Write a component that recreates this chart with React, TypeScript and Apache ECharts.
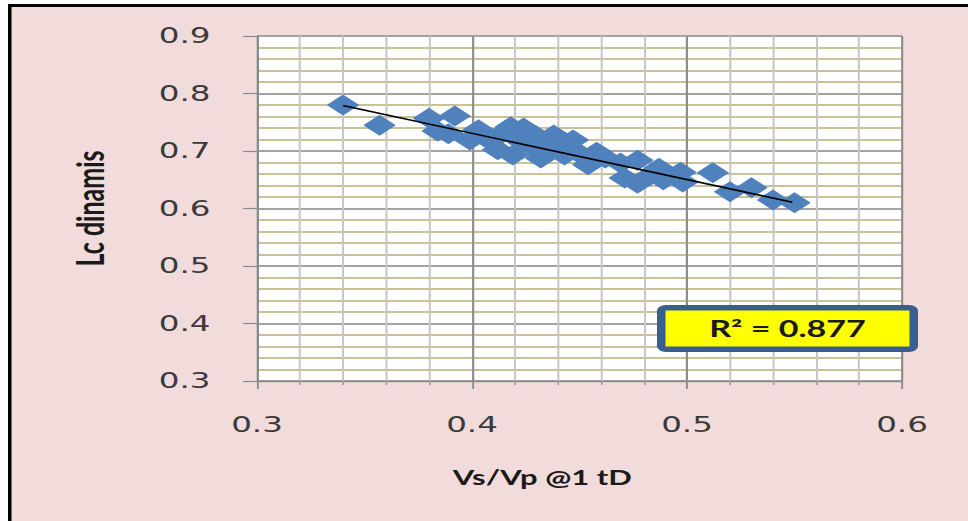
import React, { useEffect, useRef } from "react";
import * as echarts from "echarts";

// Data
const vsVp = [
  0.340, 0.357, 0.380, 0.392, 0.384, 0.389, 0.403, 0.408, 0.413, 0.412,
  0.418, 0.419, 0.422, 0.424, 0.427, 0.432, 0.430, 0.435, 0.438, 0.441,
  0.443, 0.447, 0.449, 0.454, 0.458, 0.462, 0.469, 0.477, 0.477, 0.471,
  0.483, 0.487, 0.489, 0.497, 0.498, 0.512, 0.520, 0.530, 0.540, 0.550,
  0.399,
];
const lcDinamis = [
  0.780, 0.745, 0.757, 0.761, 0.735, 0.730, 0.737, 0.719, 0.728, 0.702,
  0.742, 0.693, 0.719, 0.740, 0.710, 0.688, 0.726, 0.705, 0.728, 0.710,
  0.693, 0.719, 0.698, 0.676, 0.698, 0.688, 0.679, 0.684, 0.644, 0.653,
  0.658, 0.670, 0.650, 0.663, 0.646, 0.662, 0.629, 0.636, 0.615, 0.610,
  0.719,
];
const trendX = [0.34, 0.549];
const trendY = [0.779, 0.611];
const r2Label = "R\u00B2 = 0.877";
const xTitle = "Vs/Vp @1 tD";
const yTitle = "Lc dinamis";

const FULL_W = 968;
const H = 521;
const W = 625;
const S = FULL_W / W;

export default function App() {
  const ref = useRef<HTMLDivElement>(null);

  useEffect(() => {
    if (!ref.current) return;
    const chart = echarts.init(ref.current, undefined, { renderer: "svg" });
    const points = vsVp.map((x, i) => [x, lcDinamis[i]]);
    const trend = trendX.map((x, i) => [x, trendY[i]]);
    const tickFont = {
      fontFamily: "DejaVu Sans",
      fontSize: 21,
      color: "#3a3a3a",
    };
    chart.setOption({
      animation: false,
      backgroundColor: "#f2dcdb",
      grid: {
        left: 257 / S,
        right: W - 902 / S,
        top: 36,
        bottom: H - 381,
        show: true,
        backgroundColor: "#ffffff",
        borderWidth: 0,
      },
      xAxis: {
        type: "value",
        min: 0.3,
        max: 0.6,
        interval: 0.1,
        name: xTitle,
        nameLocation: "middle",
        nameGap: 86,
        nameTextStyle: {
          fontFamily: "Lato",
          fontWeight: "bold",
          fontSize: 20,
          color: "#1a1a1a",
          padding: [0, 48, 0, 0],
        },
        axisLine: { show: true, lineStyle: { color: "#8a8a8a", width: 1.3 } },
        axisTick: { show: true, length: 8, lineStyle: { color: "#8a8a8a", width: 1.2 } },
        minorTick: { show: true, splitNumber: 5, length: 4, lineStyle: { color: "#9a9a9a", width: 1 } },
        axisLabel: {
          ...tickFont,
          margin: 33,
          formatter: (v: number) => v.toFixed(1),
        },
        splitLine: { show: true, lineStyle: { color: "#8c8c8c", width: 1.4 } },
        minorSplitLine: { show: true, lineStyle: { color: "#c6c6c6", width: 1.3 } },
      },
      yAxis: {
        type: "value",
        min: 0.3,
        max: 0.9,
        interval: 0.1,
        name: yTitle,
        nameLocation: "middle",
        nameGap: 96,
        nameTextStyle: {
          fontFamily: "Lato",
          fontWeight: "bold",
          fontSize: 25,
          color: "#1a1a1a",
        },
        axisLine: { show: true, lineStyle: { color: "#8a8a8a", width: 1.3 } },
        axisTick: { show: true, length: 9, lineStyle: { color: "#8a8a8a", width: 1.2 } },
        minorTick: { show: false, splitNumber: 5 },
        axisLabel: {
          ...tickFont,
          margin: 30,
          formatter: (v: number) => v.toFixed(1),
        },
        splitLine: { show: true, lineStyle: { color: "#a3a3a3", width: 2 } },
        minorSplitLine: { show: true, lineStyle: { color: "#cbc198", width: 2 } },
      },
      series: [
        {
          type: "scatter",
          data: points,
          symbol: "diamond",
          symbolSize: 21,
          itemStyle: { color: "#4f81bd", opacity: 1 },
          z: 2,
        },
        {
          type: "line",
          data: trend,
          symbol: "none",
          lineStyle: { color: "#000000", width: 1.6 },
          z: 3,
        },
      ],
      graphic: [
        { type: "rect", shape: { x: 0, y: 0, width: W, height: 4 }, style: { fill: "#ffffff" }, silent: true },
        { type: "rect", shape: { x: 0, y: 0, width: 8 / S, height: H }, style: { fill: "#ffffff" }, silent: true },
        { type: "rect", shape: { x: 8 / S, y: 4, width: W, height: 3 }, style: { fill: "#000000" }, silent: true },
        { type: "rect", shape: { x: 8 / S, y: 4, width: 3.5 / S, height: H }, style: { fill: "#000000" }, silent: true },
        {
          type: "rect",
          shape: { x: 657 / S + 2.75, y: 305 + 2.75, width: (918 - 657) / S - 5.5, height: 47 - 5.5, r: 3 },
          style: { fill: "#ffff00", stroke: "#3b5e8c", lineWidth: 5.5 },
          z: 10,
          silent: true,
        },
        {
          type: "text",
          x: 787.5 / S,
          y: 329,
          style: {
            text: r2Label,
            fontFamily: "Lato",
            fontWeight: "bold",
            fontSize: 22,
            fill: "#1a1a1a",
            align: "center",
            verticalAlign: "middle",
          },
          z: 11,
          silent: true,
        },
      ],
    });
    return () => chart.dispose();
  }, []);

  return (
    <div
      ref={ref}
      style={{
        position: "absolute",
        left: 0,
        top: 0,
        width: W,
        height: H,
        transform: `scaleX(${S})`,
        transformOrigin: "0 0",
      }}
    />
  );
}
